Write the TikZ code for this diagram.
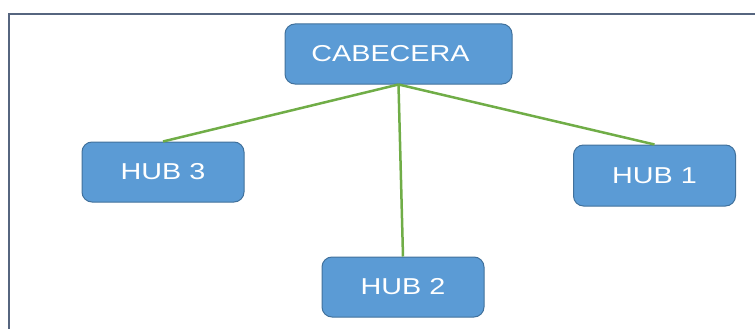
\documentclass[tikz,border=0pt]{standalone}
\usepackage{fontspec}
\usepackage{xcolor}
\usetikzlibrary{positioning}
\newfontfamily\hubfont[FakeStretch=1.25]{Liberation Sans}
\definecolor{boxfill}{HTML}{5B9BD5}
\definecolor{boxline}{HTML}{41719C}
\definecolor{link}{HTML}{70AD47}
\definecolor{frame}{HTML}{56657F}
\tikzset{
    hubbox/.style={
        rectangle, rounded corners=10pt, draw=boxline, fill=boxfill, line width=1pt,
        text=white, align=center, minimum width=162pt, minimum height=60pt, inner sep=0pt,
        font=\hubfont\fontsize{23}{27}\selectfont
    },
    link/.style={
        draw=link, line width=2.5pt
    }
}
\begin{document}
\begin{tikzpicture}[x=1pt, y=-1pt]
      \useasboundingbox (0,0) rectangle (755,329);
      % outer frame, only top and left edges fall inside the page
      \draw[frame, line width=2pt] (9,340) -- (9,14) -- (770,14);

      \node[hubbox, minimum width=227pt] (cab) at (398.5,54) {\hspace*{-16pt}CABECERA};
      \node[hubbox] (hub3) at (163,172) {HUB 3};
      \node[hubbox, minimum height=61pt] (hub1) at (654.5,175.5) {HUB 1};
      \node[hubbox] (hub2) at (403,287) {HUB 2};

      \draw[link] (cab.south) -- (hub3.north);
      \draw[link] (cab.south) -- (hub2.north);
      \draw[link] (cab.south) -- (hub1.north);
    \end{tikzpicture}
\end{document}
